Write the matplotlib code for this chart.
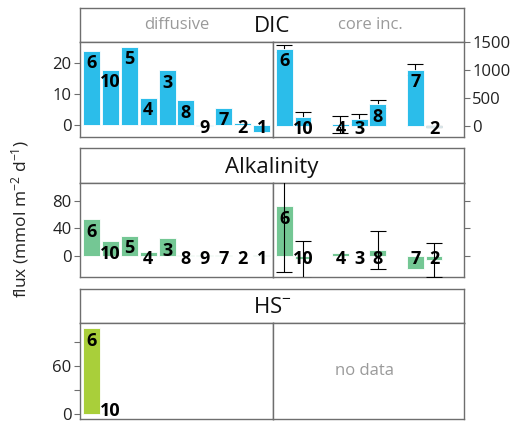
import numpy as np
import matplotlib
matplotlib.use('Agg')
import matplotlib.pyplot as plt

plt.rcParams['font.family'] = ['Open Sans', 'DejaVu Sans']
plt.rcParams['mathtext.fontset'] = 'custom'
plt.rcParams['mathtext.rm'] = 'Open Sans'
plt.rcParams['mathtext.it'] = 'Open Sans'

# site order (same slots in both panels)
sites = ['6', '10', '5', '4', '3', '8', '9', '7', '2', '1']

# DIC
dic_diff = [23.9, 17.9, 25.3, 8.7, 17.6, 8.0, -0.4, 5.6, 0.5, -2.4]
dic_core = [1378, 150, np.nan, 25, 120, 390, np.nan, 1005, -15, np.nan]
dic_core_err = [60, 100, np.nan, 150, 90, 73, np.nan, 103, 12, np.nan]

# Alkalinity
alk_diff = [53, 21.5, 29.5, 6, 25.5, 1.5, 1.2, 1.2, 0.5, 1.5]
alk_core = [72, -5, np.nan, 5, 0, 8.5, np.nan, -19, -6, np.nan]
alk_core_err = [95, 27, np.nan, np.nan, np.nan, 27.5, np.nan, np.nan, 25, np.nan]

# HS-
hs_diff = [108, 0.8, np.nan, np.nan, np.nan, np.nan, np.nan, np.nan, np.nan, np.nan]

C_DIC = '#2bbdea'
C_ALK = '#74c794'
C_HS = '#a9cf3a'
FRAME = '#6e6e6e'

W, H = 515, 424
fig = plt.figure(figsize=(W / 100, H / 100), dpi=100)


def px_axes(x0, y0, x1, y1):
    return fig.add_axes([x0 / W, 1 - y1 / H, (x1 - x0) / W, (y1 - y0) / H])


def style(ax):
    for s in ax.spines.values():
        s.set_color(FRAME)
        s.set_linewidth(1.0)
    ax.tick_params(colors=FRAME, labelcolor='#222222', labelsize=12, length=4, width=0.8,
                   pad=2)
    ax.set_xticks([])
    ax.set_xlim(-0.6, 9.6)


def strip(y0, y1, title):
    ax = px_axes(80, y0, 464, y1)
    ax.set_xticks([])
    ax.set_yticks([])
    for s in ax.spines.values():
        s.set_color(FRAME)
        s.set_linewidth(1.0)
    ax.text(0.5, 0.45, title, transform=ax.transAxes, ha='center', va='center',
            fontsize=16, color='#111111')
    return ax


def bars(ax, vals, color, err=None, err_top=False, thr_frac=0.1):
    x = np.arange(len(sites))
    v = np.array(vals, dtype=float)
    if err is not None:
        ax.errorbar(x, v, yerr=np.array(err, dtype=float), fmt='none', ecolor='black',
                    elinewidth=0.8, capsize=6, capthick=0.8, zorder=4 if err_top else 1)
    ax.bar(x, v, width=0.9, color=color, edgecolor='white', linewidth=0.6, zorder=2)
    lo, hi = ax.get_ylim()
    thr = thr_frac * (hi - lo)
    for xi, vi, s in zip(x, v, sites):
        if np.isnan(vi):
            continue
        ax.annotate(s, (xi, max(vi, thr)), xytext=(0, -2.5), textcoords='offset points',
                    ha='center', va='top', fontsize=13, fontweight='bold', zorder=5)


# ---- DIC row ----
sa = strip(8, 42, 'DIC')
sa.text((176.5 - 80) / 384, 0.5, 'diffusive', transform=sa.transAxes, ha='center',
        va='center', fontsize=12, color='#9a9a9a')
sa.text((370 - 80) / 384, 0.5, 'core inc.', transform=sa.transAxes, ha='center',
        va='center', fontsize=12, color='#9a9a9a')

ax = px_axes(80, 42, 273, 137)
style(ax)
ax.set_ylim(-3.9, 26.8)
ax.set_yticks([0, 10, 20])
bars(ax, dic_diff, C_DIC)

ax = px_axes(273, 42, 464, 137)
style(ax)
ax.set_ylim(-200, 1500)
ax.yaxis.tick_right()
ax.set_yticks([0, 500, 1000, 1500])
bars(ax, dic_core, C_DIC, dic_core_err)

# ---- Alkalinity row ----
strip(148, 183, 'Alkalinity')

ax = px_axes(80, 183, 273, 277)
style(ax)
ax.set_ylim(-30.5, 106)
ax.set_yticks([0, 40, 80])
bars(ax, alk_diff, C_ALK)

ax = px_axes(273, 183, 464, 277)
style(ax)
ax.set_ylim(-30.5, 106)
ax.yaxis.tick_right()
ax.set_yticks([0, 40, 80])
ax.set_yticklabels([])
bars(ax, alk_core, C_ALK, alk_core_err, err_top=True)

# ---- HS- row ----
strip(289, 323, 'HS$^{-}$')

ax = px_axes(80, 323, 273, 419)
style(ax)
ax.set_ylim(-6.3, 114.5)
ax.set_yticks([0, 30, 60, 90])
ax.set_yticklabels(['0', '', '60', ''])
bars(ax, hs_diff, C_HS, thr_frac=0.16)

ax = px_axes(273, 323, 464, 419)
style(ax)
ax.set_yticks([])
ax.text(0.48, 0.5, 'no data', transform=ax.transAxes, ha='center', va='center',
        fontsize=12, color='#9a9a9a')

fig.text(20 / W, 1 - 219 / H, 'flux (mmol m$^{-2}$ d$^{-1}$)', rotation=90,
         ha='center', va='center', fontsize=12.5, color='#222222')

fig.savefig('out.png', dpi=100)
